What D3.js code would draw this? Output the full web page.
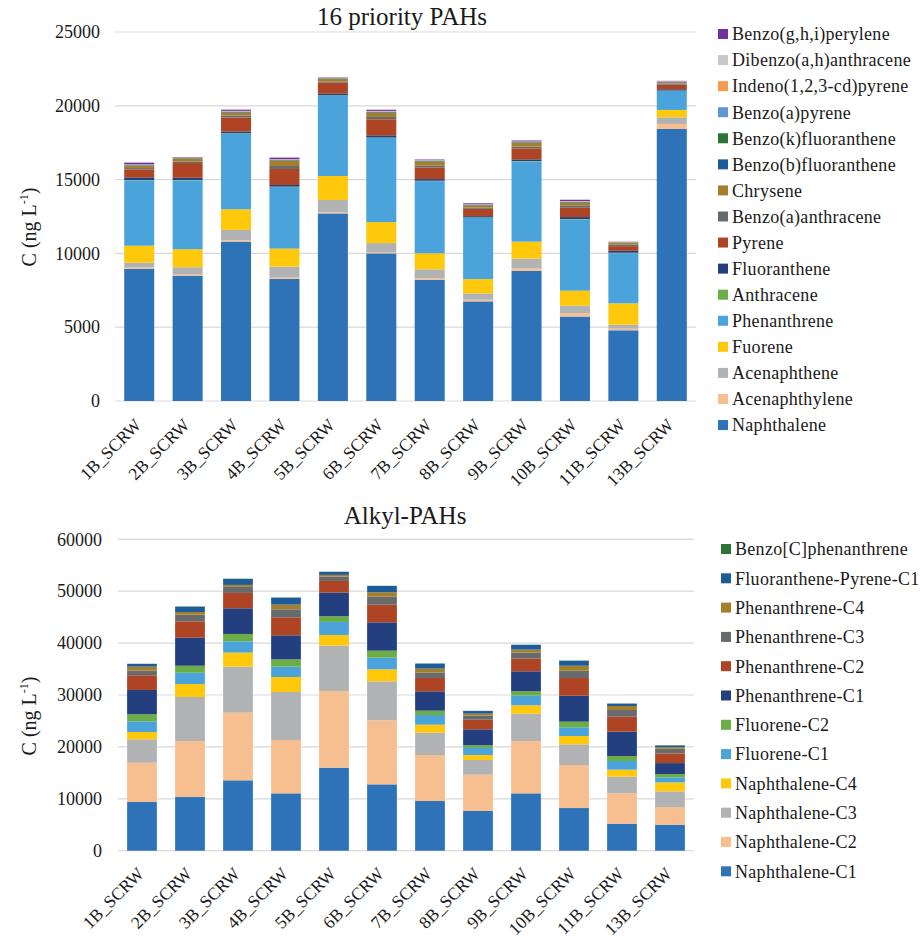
<!DOCTYPE html>
<html>
<head>
<meta charset="utf-8">
<script src="https://cdn.jsdelivr.net/npm/d3@7"></script>
<style>
  body { margin: 0; background: #fff; }
  svg text { font-family: "Liberation Serif", "Times New Roman", "DejaVu Serif", serif !important; fill: #1a1a1a; }
</style>
</head>
<body>
<svg id="chart" width="920" height="940"></svg>
<script>
// Sampling sites (x categories)
const sites = ["1B_SCRW","2B_SCRW","3B_SCRW","4B_SCRW","5B_SCRW","6B_SCRW",
               "7B_SCRW","8B_SCRW","9B_SCRW","10B_SCRW","11B_SCRW","13B_SCRW"];

// ---- 16 priority PAHs (ng/L), stacking order bottom to top ----
const naphthalene        = [8950, 8470, 10800, 8270, 12710, 10000, 8200, 6750, 8810, 5720, 4790, 18430];
const acenaphthylene     = [100, 90, 90, 90, 70, 70, 110, 110, 180, 220, 110, 340];
const acenaphthene       = [320, 500, 700, 745, 840, 630, 610, 430, 655, 520, 270, 450];
const fluorene           = [1150, 1220, 1400, 1220, 1625, 1420, 1085, 970, 1150, 1015, 1445, 500];
const phenanthrene       = [4420, 4665, 5120, 4170, 5435, 5700, 4890, 4150, 5435, 4825, 3400, 1280];
const anthracene         = [30, 30, 30, 30, 30, 30, 30, 25, 30, 30, 30, 30];
const fluoranthene       = [180, 150, 120, 110, 130, 150, 110, 90, 110, 130, 130, 90];
const pyrene             = [540, 995, 945, 1085, 725, 1085, 790, 495, 745, 630, 315, 315];
const benzoAAnthracene   = [90, 110, 130, 200, 85, 160, 135, 90, 115, 135, 110, 70];
const chrysene           = [150, 200, 205, 360, 165, 290, 270, 135, 270, 200, 110, 65];
const benzoBFluoranthene = [30, 20, 40, 30, 30, 40, 30, 30, 30, 40, 20, 30];
const benzoKFluoranthene = [15, 10, 20, 15, 15, 20, 15, 15, 15, 20, 10, 15];
const benzoAPyrene       = [15, 10, 20, 15, 15, 20, 15, 15, 15, 20, 10, 15];
const indenoPyrene       = [20, 10, 20, 20, 15, 20, 15, 15, 15, 20, 10, 15];
const dibenzoAnthracene  = [20, 10, 20, 20, 15, 20, 15, 15, 15, 20, 10, 15];
const benzoGhiPerylene   = [120, 30, 80, 110, 25, 80, 40, 60, 60, 90, 20, 30];

const pahNames = ["Naphthalene","Acenaphthylene","Acenaphthene","Fuorene","Phenanthrene","Anthracene",
  "Fluoranthene","Pyrene","Benzo(a)anthracene","Chrysene","Benzo(b)fluoranthene","Benzo(k)fluoranthene",
  "Benzo(a)pyrene","Indeno(1,2,3-cd)pyrene","Dibenzo(a,h)anthracene","Benzo(g,h,i)perylene"];
const pahColors = ["#2E73B8","#F7BE8F","#B0B2B4","#FFC80A","#4BA3DB","#6AAE45",
  "#233F80","#AE4423","#676B6E","#A67F2A","#1E5C99","#2E7437",
  "#5F97D3","#F5994E","#C8C8C8","#7030A0"];
const pahValues = [naphthalene, acenaphthylene, acenaphthene, fluorene, phenanthrene, anthracene,
  fluoranthene, pyrene, benzoAAnthracene, chrysene, benzoBFluoranthene, benzoKFluoranthene,
  benzoAPyrene, indenoPyrene, dibenzoAnthracene, benzoGhiPerylene];
const pahTicks = [0, 5000, 10000, 15000, 20000, 25000];

// ---- Alkyl-PAHs (ng/L), stacking order bottom to top ----
const naphC1   = [9380, 10340, 13560, 11050, 16000, 12780, 9570, 7650, 11050, 8220, 5200, 5010];
const naphC2   = [7580, 10790, 13040, 10280, 14780, 12330, 8870, 7000, 10090, 8290, 5850, 3400];
const naphC3   = [4500, 8480, 8870, 9250, 8740, 7520, 4300, 2830, 5270, 3980, 3210, 3020];
const naphC4   = [1410, 2500, 2700, 2890, 2050, 2310, 1540, 960, 1610, 1610, 1350, 1730];
const fluorC1  = [2060, 2180, 2180, 1990, 2510, 2250, 1860, 1350, 1860, 1670, 1670, 960];
const fluorC2  = [1350, 1350, 1410, 1410, 1090, 1350, 840, 510, 840, 1090, 960, 640];
const phenC1   = [4690, 5400, 4950, 4630, 4560, 5460, 3730, 3080, 3850, 5010, 4690, 2120];
const phenC2   = [2830, 3150, 2960, 3470, 2250, 3400, 2570, 1860, 2440, 3400, 2890, 1860];
const phenC3   = [900, 1290, 1160, 1540, 840, 1540, 1030, 770, 1160, 1410, 1290, 900];
const phenC4   = [770, 510, 380, 900, 320, 840, 770, 390, 580, 960, 770, 320];
const flPyrC1  = [510, 1030, 1160, 1350, 580, 1220, 960, 510, 900, 960, 450, 320];
const benzoCPh = [40, 40, 40, 40, 40, 40, 40, 40, 40, 40, 40, 40];

const alkylNames = ["Naphthalene-C1","Naphthalene-C2","Naphthalene-C3","Naphthalene-C4","Fluorene-C1",
  "Fluorene-C2","Phenanthrene-C1","Phenanthrene-C2","Phenanthrene-C3","Phenanthrene-C4",
  "Fluoranthene-Pyrene-C1","Benzo[C]phenanthrene"];
const alkylColors = ["#2E73B8","#F7BE8F","#B0B2B4","#FFC80A","#4BA3DB",
  "#6AAE45","#233F80","#AE4423","#676B6E","#A67F2A","#1E5C99","#2E7437"];
const alkylValues = [naphC1, naphC2, naphC3, naphC4, fluorC1, fluorC2,
  phenC1, phenC2, phenC3, phenC4, flPyrC1, benzoCPh];
const alkylTicks = [0, 10000, 20000, 30000, 40000, 50000, 60000];

const SERIF = "'Liberation Serif', 'Times New Roman', 'DejaVu Serif', serif";
const svg = d3.select("#chart");

function drawPanel(opt) {
  const g = svg.append("g");
  const rows = sites.map((s, i) => {
    const r = { site: s };
    opt.names.forEach((n, k) => { r[n] = opt.values[k][i]; });
    return r;
  });
  const x = d3.scaleBand().domain(sites).range([opt.left, opt.right])
    .paddingInner(0.38).paddingOuter(0.19);
  const y = d3.scaleLinear().domain([0, opt.ticks[opt.ticks.length - 1]])
    .range([opt.bottom, opt.top]);

  // gridlines
  g.append("g").selectAll("line").data(opt.ticks).join("line")
    .attr("x1", opt.left).attr("x2", opt.right)
    .attr("y1", d => y(d)).attr("y2", d => y(d))
    .attr("stroke", "#D9D9D9").attr("stroke-width", 1.2);

  // y axis labels
  const yAxis = d3.axisLeft(y).tickValues(opt.ticks).tickSize(0).tickPadding(opt.tickPad)
    .tickFormat(d3.format("d"));
  const ya = g.append("g").attr("transform", `translate(${opt.left},0)`).call(yAxis);
  ya.attr("font-family", null).attr("font-size", null);
  ya.select(".domain").remove();
  ya.selectAll("text").attr("font-size", 18);

  // stacked bars
  const stack = d3.stack().keys(opt.names)(rows);
  g.append("g").selectAll("g").data(stack).join("g")
    .attr("fill", (d, k) => opt.colors[k])
    .selectAll("rect").data(d => d).join("rect")
    .attr("x", d => x(d.data.site))
    .attr("width", x.bandwidth())
    .attr("y", d => y(d[1]))
    .attr("height", d => Math.max(0, y(d[0]) - y(d[1])));

  // x labels
  const xa = g.append("g").attr("transform", `translate(0,${opt.bottom})`)
    .call(d3.axisBottom(x).tickSize(0).tickPadding(0));
  xa.attr("font-family", null).attr("font-size", null);
  xa.select(".domain").remove();
  xa.selectAll("text")
    .attr("font-size", 17.5)
    .attr("text-anchor", "end")
    .attr("dy", 0)
    .attr("transform", `translate(${opt.xlabDx},${opt.xlabDy}) rotate(-45)`);

  // title
  g.append("text").attr("x", opt.titleX).attr("y", opt.titleY)
    .attr("text-anchor", "middle").attr("font-size", 25).text(opt.title);

  // y axis title
  const yt = g.append("text")
    .attr("transform", `translate(${opt.yTitleX},${opt.yTitleY}) rotate(-90)`)
    .attr("text-anchor", "middle").attr("font-size", 20);
  yt.append("tspan").text("C (ng L");
  yt.append("tspan").attr("font-size", 12).attr("dy", -8).text("-1");
  yt.append("tspan").attr("dy", 8).text(")");

  // legend (top entry = last series)
  const legend = g.append("g");
  const items = opt.names.map((n, k) => ({ name: n, color: opt.colors[k] })).reverse();
  const li = legend.selectAll("g").data(items).join("g")
    .attr("transform", (d, i) => `translate(${opt.legX},${opt.legY + i * opt.legStep})`);
  li.append("rect").attr("x", 0).attr("y", -5).attr("width", 10).attr("height", 10)
    .attr("fill", d => d.color);
  li.append("text").attr("x", 14).attr("y", 0).attr("dy", "0.35em")
    .attr("font-size", 18).attr("letter-spacing", 0.3).text(d => d.name);
}

drawPanel({
  names: pahNames, colors: pahColors, values: pahValues, ticks: pahTicks,
  left: 115, right: 696, top: 32, bottom: 401, tickPad: 15,
  xlabDx: 3, xlabDy: 25,
  title: "16 priority PAHs", titleX: 402, titleY: 25,
  yTitleX: 36, yTitleY: 227,
  legX: 718, legY: 34, legStep: 26.07
});

drawPanel({
  names: alkylNames, colors: alkylColors, values: alkylValues, ticks: alkylTicks,
  left: 118, right: 694, top: 539.3, bottom: 850.7, tickPad: 16,
  xlabDx: 3, xlabDy: 24,
  title: "Alkyl-PAHs", titleX: 405, titleY: 524,
  yTitleX: 36, yTitleY: 716,
  legX: 721, legY: 549, legStep: 29.3
});

svg.selectAll("text").style("font-family", SERIF);
</script>
</body>
</html>
